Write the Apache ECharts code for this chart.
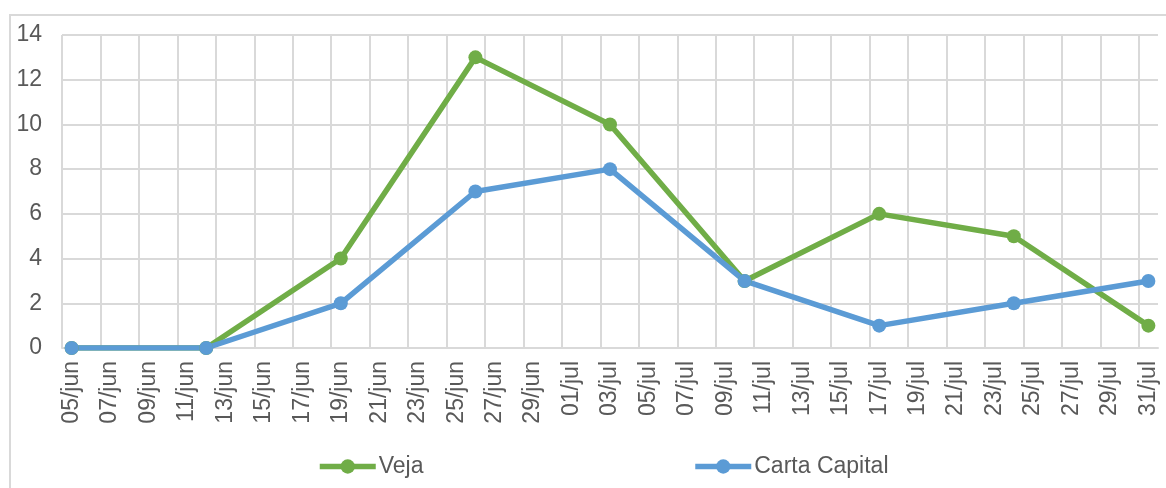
<!DOCTYPE html>
<html>
<head>
<meta charset="utf-8">
<script src="https://cdn.jsdelivr.net/npm/echarts@6/dist/echarts.min.js"></script>
<style>
  html, body { margin: 0; padding: 0; background: #fff; }
  #chart { width: 1166px; height: 488px; }
</style>
</head>
<body>
<div id="chart"></div>
<script>
// one category per day, 05/jun .. 31/jul
const days = []
for (let d = 5; d <= 30; d++) days.push(String(d).padStart(2, '0') + '/jun')
for (let d = 1; d <= 31; d++) days.push(String(d).padStart(2, '0') + '/jul')

const pointDates = ['05/jun', '12/jun', '19/jun', '26/jun', '03/jul', '10/jul', '17/jul', '24/jul', '31/jul']
const veja = [0, 0, 4, 13, 10, 3, 6, 5, 1]
const cartaCapital = [0, 0, 2, 7, 8, 3, 1, 2, 3]
const yTicks = { min: 0, max: 14, step: 2 }

const font = "'Liberation Sans', Arial, sans-serif"
const textColor = '#595959'
const gridColor = '#d9d9d9'

// vertical lines every 2 days; the closing line at the right edge is not drawn
const vLineColors = []
for (let i = 0; i < 29; i++) vLineColors.push(gridColor)
vLineColors.push('rgba(0,0,0,0)')

const chart = echarts.init(document.getElementById('chart'), null, { renderer: 'canvas' })

chart.setOption({
  backgroundColor: '#fff',
  animation: false,
  graphic: [{
    type: 'rect',
    z: -1,
    shape: { x: 10, y: 15, width: 1200, height: 520 },
    style: { fill: 'none', stroke: gridColor, lineWidth: 2 }
  }],
  grid: { left: 62, right: 8, top: 35, bottom: 140 },
  legend: {
    left: 312,
    top: 450,
    itemWidth: 56,
    itemHeight: 18,
    itemGap: 269,
    lineStyle: { width: 5.5 },
    textStyle: { color: textColor, fontSize: 23, fontFamily: font, padding: [0, 0, 0, -2] },
    data: ['Veja', 'Carta Capital']
  },
  xAxis: {
    type: 'category',
    data: days,
    boundaryGap: true,
    axisLine: { show: true, lineStyle: { color: gridColor, width: 2 } },
    axisTick: { show: false },
    axisLabel: {
      interval: 1,
      rotate: 90,
      margin: 13,
      color: textColor,
      fontSize: 23,
      fontFamily: font
    },
    splitLine: {
      show: true,
      interval: 1,
      lineStyle: { color: vLineColors, width: 2 }
    }
  },
  yAxis: {
    type: 'value',
    min: yTicks.min,
    max: yTicks.max,
    interval: yTicks.step,
    axisLine: { show: false },
    axisTick: { show: false },
    axisLabel: { color: textColor, fontSize: 23, fontFamily: font, margin: 20 },
    splitLine: { lineStyle: { color: gridColor, width: 2 } }
  },
  series: [
    {
      name: 'Veja',
      type: 'line',
      data: pointDates.map((d, i) => [d, veja[i]]),
      symbol: 'circle',
      symbolSize: 14,
      showAllSymbol: true,
      itemStyle: { color: '#70AD47' },
      lineStyle: { color: '#70AD47', width: 5.5 }
    },
    {
      name: 'Carta Capital',
      type: 'line',
      data: pointDates.map((d, i) => [d, cartaCapital[i]]),
      symbol: 'circle',
      symbolSize: 14,
      showAllSymbol: true,
      itemStyle: { color: '#5B9BD5' },
      lineStyle: { color: '#5B9BD5', width: 5.5 }
    }
  ]
})
</script>
</body>
</html>
